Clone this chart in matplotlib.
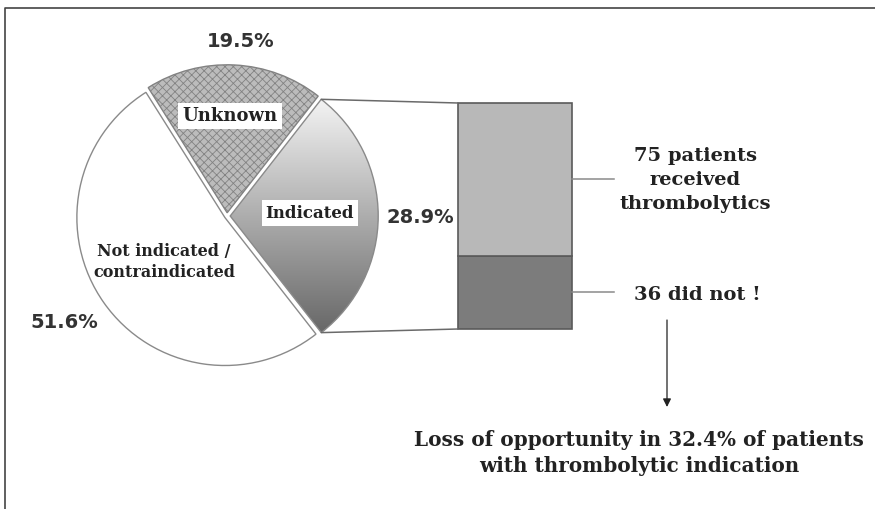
import numpy as np
import matplotlib
matplotlib.use('Agg')
from matplotlib import pyplot as plt
from matplotlib.colors import LinearSegmentedColormap
from matplotlib.patches import ConnectionPatch

# data
pie_labels = ['Indicated', 'Unknown', 'Not indicated /\ncontraindicated']
pie_pct = [28.9, 19.5, 51.6]
bar_labels = ['36 did not !', '75 patients\nreceived\nthrombolytics']
bar_counts = [36, 75]

plt.rcParams['hatch.linewidth'] = 0.6
SERIF = 'DejaVu Serif'
SANS = 'DejaVu Sans'
TXT = '#222222'

W, H = 875, 509
def py(y):
    # pixel row -> data y
    return H - y

fig = plt.figure(figsize=(W / 100, H / 100), dpi=100)
ax = fig.add_axes([0, 0, 1, 1])

cx, cy, r = 227, py(216), 148
# explode is in data units here (pixels)
wedges, _ = ax.pie(pie_pct, startangle=-52, counterclock=True,
                   center=(cx, cy), radius=r, explode=[3.2, 3.2, 2.6], frame=True,
                   wedgeprops=dict(edgecolor='#8a8a8a', linewidth=1.0))

# indicated: vertical gradient
wedges[0].set_facecolor('none')
wedges[0].set_zorder(2)
cmap = LinearSegmentedColormap.from_list('g', ['#666666', '#f4f4f4'])
grad = np.linspace(1, 0, 256)[:, None]
im = ax.imshow(grad, cmap=cmap, extent=(cx - 10, cx + r + 20, py(335), py(98)),
               origin='upper', aspect='auto', zorder=1)
im.set_clip_path(wedges[0])
# unknown: hatched
wedges[1].set_facecolor('#bcbcbc')
wedges[1].set_edgecolor('#828282')
wedges[1].set_hatch('xxxx')
# not indicated: white
wedges[2].set_facecolor('white')

ax.set_xlim(0, W)
ax.set_ylim(0, H)
ax.set_aspect('equal')
ax.axis('off')

# slice labels
box = dict(facecolor='white', edgecolor='none', pad=3)
ax.text(230, py(116), pie_labels[1], ha='center', va='center', fontsize=13,
        family=SERIF, weight='bold', color=TXT, bbox=box, zorder=5)
ax.text(310, py(213), pie_labels[0], ha='center', va='center', fontsize=12,
        family=SERIF, weight='bold', color=TXT, bbox=box, zorder=5)
ax.text(164, py(262), pie_labels[2], ha='center', va='center', fontsize=11.5,
        family=SERIF, weight='bold', color=TXT, linespacing=1.3, zorder=5)

# percentages
for v, (x, y) in zip(pie_pct, [(420, 217), (241, 41), (64, 322)]):
    ax.text(x, py(y), f'{v}%', ha='center', va='center', fontsize=14,
            family=SANS, weight='bold', color='#333333')

# stacked bar
total = sum(bar_counts)
bx = fig.add_axes([458 / W, (H - 329) / H, 114 / W, 226 / H])
bx.bar(0, bar_counts[0], width=1, color='#7c7c7c', edgecolor='#5a5a5a',
       linewidth=1.2, clip_on=False)
bx.bar(0, bar_counts[1], bottom=bar_counts[0], width=1, color='#b8b8b8',
       edgecolor='#5a5a5a', linewidth=1.2, clip_on=False)
bx.set_xlim(-0.5, 0.5)
bx.set_ylim(0, total)
bx.axis('off')

# lines from the indicated wedge to the bar
w = wedges[0]
wcx, wcy = w.center
for th, yb in [(w.theta2, total), (w.theta1, 0)]:
    p = (wcx + w.r * np.cos(np.deg2rad(th)), wcy + w.r * np.sin(np.deg2rad(th)))
    con = ConnectionPatch(xyA=p, coordsA=ax.transData, xyB=(-0.5, yb),
                          coordsB=bx.transData, color='#6a6a6a', lw=1.1)
    fig.add_artist(con)

# leader lines + bar labels
mids = [bar_counts[0] / 2, bar_counts[0] + bar_counts[1] / 2]
for m in mids:
    bx.plot([0.5, 0.5 + 42 / 114], [m, m], color='#8a8a8a', lw=1.1, clip_on=False)

ax.text(695, py(180), bar_labels[1], ha='center', va='center', fontsize=14,
        family=SERIF, weight='bold', color=TXT, linespacing=1.45)
ax.text(697, py(295), bar_labels[0], ha='center', va='center', fontsize=14,
        family=SERIF, weight='bold', color=TXT)

ax.annotate('', xy=(667, py(407)), xytext=(667, py(320)),
            arrowprops=dict(arrowstyle='-|>', color=TXT, lw=0.9,
                            mutation_scale=12, shrinkA=0, shrinkB=0))

loss = 100 * bar_counts[0] / total
ax.text(639, py(453), f'Loss of opportunity in {loss:.1f}% of patients\n'
        'with thrombolytic indication', ha='center', va='center', fontsize=14.4,
        family=SERIF, weight='bold', color=TXT, linespacing=1.4)

# frame
ax.plot([5, 5, W], [0, py(8), py(8)], color='#444444', lw=1.2)

fig.savefig('out.png', dpi=100)
